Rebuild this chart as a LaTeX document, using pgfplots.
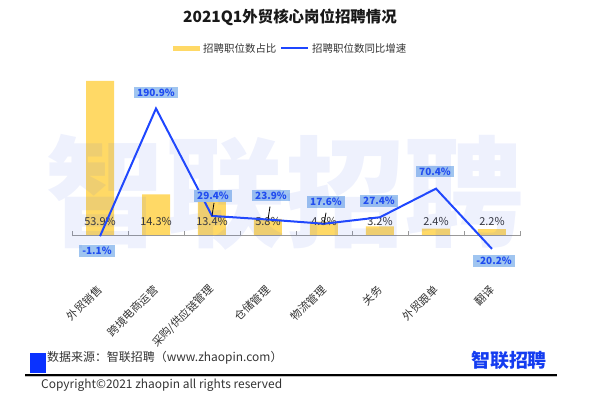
\documentclass[border=0pt]{standalone}
\usepackage{fontspec}
\setmainfont{Noto Sans CJK SC}
\usepackage{pgfplots}
\pgfplotsset{compat=1.18}
\definecolor{barY}{RGB}{255,217,102}
\definecolor{lineB}{RGB}{30,70,255}
\definecolor{boxF}{RGB}{160,197,240}
\definecolor{labB}{RGB}{30,75,240}
\definecolor{txt}{RGB}{51,51,51}
\definecolor{wm}{RGB}{70,100,230}
\definecolor{srcB}{RGB}{10,50,255}
\definecolor{logoB}{RGB}{20,60,240}
\definecolor{logoY}{RGB}{255,200,40}
\begin{document}
\begin{tikzpicture}
\path[use as bounding box] (0,0) rectangle (597bp,399bp);
% primary axis: bars
\begin{axis}[at={(72bp,120.5bp)}, anchor=south west, scale only axis,
  width=448bp, height=215.25bp,
  xmin=-0.5, xmax=7.5, ymin=-15, ymax=60,
  /pgf/number format/assume math mode=true,
  axis line style={draw=none}, ytick=\empty,
  xtick={0,...,7},
  xticklabels={外贸销售,跨境电商运营,采购/供应链管理,仓储管理,物流管理,关务,外贸跟单,翻译},
  major tick length=0pt,
  xticklabel style={yshift=-9bp, rotate=45, anchor=east, inner sep=0pt, font=\fontsize{11}{11}\selectfont, text=txt},
  clip=false]
\addplot[ybar, bar width=28bp, fill=barY, draw=none] coordinates {
 (0,53.9) (1,14.3) (2,13.4) (3,5.8) (4,4.8) (5,3.2) (6,2.4) (7,2.2)};
\draw[gray!80, line width=0.8bp] (axis cs:-0.5,0) -- (axis cs:7.5,0);
\draw[gray!80, line width=0.8bp]
 (axis cs:-0.5,0) ++(0bp,-1bp) -- ++(0bp,5bp)
 (axis cs:0.5,0) ++(0bp,-1bp) -- ++(0bp,5bp)
 (axis cs:1.5,0) ++(0bp,-1bp) -- ++(0bp,5bp)
 (axis cs:2.5,0) ++(0bp,-1bp) -- ++(0bp,5bp)
 (axis cs:3.5,0) ++(0bp,-1bp) -- ++(0bp,5bp)
 (axis cs:4.5,0) ++(0bp,-1bp) -- ++(0bp,5bp)
 (axis cs:5.5,0) ++(0bp,-1bp) -- ++(0bp,5bp)
 (axis cs:6.5,0) ++(0bp,-1bp) -- ++(0bp,5bp)
 (axis cs:7.5,0) ++(0bp,-1bp) -- ++(0bp,5bp);
\addplot[draw=none, mark=none, point meta=explicit,
  nodes near coords={\pgfmathprintnumber[fixed,precision=1,fixed zerofill,assume math mode=true]{\pgfplotspointmeta}\%},
  every node near coord/.append style={anchor=center, font=\fontsize{11}{11}\selectfont, text=txt}]
  table[x=x, y=y, meta=v] {
x y v
0 4.8 53.9
1 4.8 14.3
2 4.8 13.4
3 4.8 5.8
4 4.8 4.8
5 4.8 3.2
6 4.8 2.4
7 4.8 2.2
};
\end{axis}
% secondary axis: growth line
\begin{axis}[at={(72bp,120.5bp)}, anchor=south west, scale only axis,
  width=448bp, height=215.25bp,
  xmin=-0.5, xmax=7.5, ymin=-64.74, ymax=258.96,
  /pgf/number format/assume math mode=true,
  hide axis, clip=false]
\addplot[lineB, line width=2bp, mark=none] coordinates {
 (0,-1.1) (1,190.9) (2,29.4) (3,23.9) (4,17.6) (5,27.4) (6,70.4) (7,-20.2)};
\draw[black, line width=0.8bp] (axis cs:2,29.4) -- ++(2bp,13bp);
\draw[black, line width=0.8bp] (axis cs:3,23.9) -- ++(2bp,13bp);
\draw[black, line width=0.8bp] (axis cs:4,17.6) -- ++(2bp,11bp);
\addplot[draw=none, mark=none, point meta=explicit,
  visualization depends on={\thisrow{dx} \as \dx},
  visualization depends on={\thisrow{dy} \as \dy},
  nodes near coords={\pgfmathprintnumber[fixed,precision=1,fixed zerofill,assume math mode=true]{\pgfplotspointmeta}\%},
  every node near coord/.append style={anchor=center, xshift=\dx bp, yshift=\dy bp,
    fill=boxF, text=labB, font=\fontsize{10}{10}\selectfont\bfseries,
    inner xsep=3bp, inner ysep=2bp}]
  table[x=x, y=y, meta=y] {
x y dx dy
0 -1.1 -3 -15
1 190.9 0 16
2 29.4 1 20
3 23.9 3 24
4 17.6 2 22
5 27.4 -1 16
6 70.4 -1 17
7 -20.2 2 -12
};
\end{axis}
% watermark
\node[font=\fontsize{120}{120}\selectfont\bfseries, text=wm, opacity=0.09] at (285bp,207bp) {智联招聘};
% title
\node[font=\fontsize{15.5}{16}\selectfont\bfseries, text=black!90] at (290bp,382bp) {2021Q1外贸核心岗位招聘情况};
% legend
\fill[barY] (173bp,348bp) rectangle (200bp,353bp);
\node[anchor=west, inner sep=0pt, font=\fontsize{10.5}{10.5}\selectfont, text=txt] at (203bp,350.5bp) {招聘职位数占比};
\draw[lineB, line width=2bp] (281bp,350.7bp) -- (308bp,350.7bp);
\node[anchor=west, inner sep=0pt, font=\fontsize{10.5}{10.5}\selectfont, text=txt] at (312bp,350.5bp) {招聘职位数同比增速};
% footer
\fill[srcB] (30bp,26bp) rectangle (46bp,46bp);
\node[anchor=west, inner sep=0pt, font=\fontsize{12}{12}\selectfont, text=txt] at (47bp,41bp) {数据来源：智联招聘（www.zhaopin.com）};
\node[font=\fontsize{19}{19}\selectfont\bfseries, text=logoB] at (509bp,39bp) {智联招聘};
\draw[gray!50, line width=0.8bp] (25bp,22.8bp) -- (557bp,22.8bp);
\draw[black, line width=1.2bp] (25bp,24bp) -- (557bp,24bp);
\node[anchor=west, inner sep=0pt, font=\fontsize{12}{12}\selectfont, text=txt] at (41bp,14bp) {Copyright©2021 zhaopin all rights reserved};
\end{tikzpicture}
\end{document}
